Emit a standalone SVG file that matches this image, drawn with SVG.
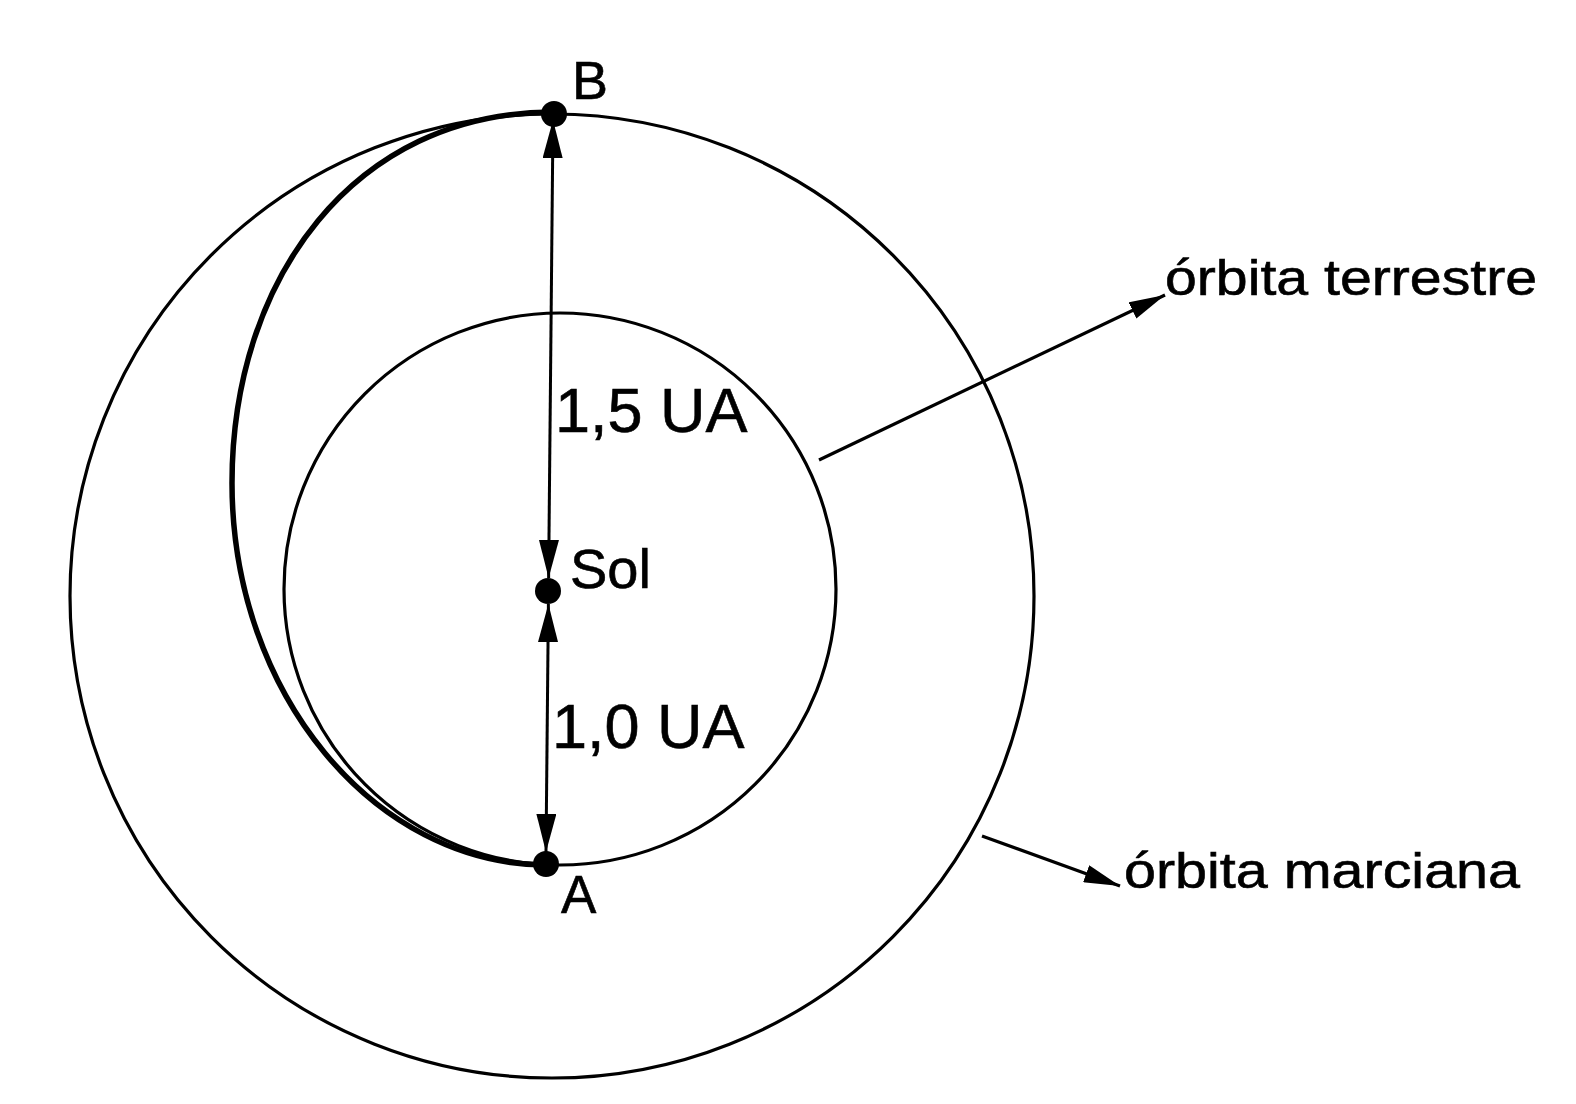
<svg xmlns="http://www.w3.org/2000/svg" width="1576" height="1104" viewBox="0 0 1576 1104">
<style>
.orbit{fill:none;stroke:#000;stroke-width:3.2}
.transfer{fill:none;stroke:#000;stroke-width:5.5}
.dim{stroke:#000;stroke-width:3;fill:none}
.lead{stroke:#000;stroke-width:3.2;fill:none}
.dot{fill:#000}
.lbl{font-family:"Liberation Sans",Arial,sans-serif;fill:#000;stroke:#000;stroke-width:0.6}
</style>
<defs>
<marker id="ah" viewBox="0 0 38 20" refX="38" refY="10" markerWidth="38" markerHeight="20" markerUnits="userSpaceOnUse" orient="auto-start-reverse">
<path d="M0,0 L38,10 L0,20 z" fill="#000"/>
</marker>
<marker id="ahs" viewBox="0 0 36 18" refX="36" refY="9" markerWidth="36" markerHeight="18" markerUnits="userSpaceOnUse" orient="auto">
<path d="M0,0 L36,9 L0,18 z" fill="#000"/>
</marker>
</defs>
<rect width="1576" height="1104" fill="#fff"/>
<g id="orbita-marciana-circle"><circle class="orbit" cx="552" cy="596" r="482"/></g>
<g id="orbita-terrestre-circle"><circle class="orbit" cx="560" cy="589" r="276"/></g>
<g id="transfer-orbit"><path class="transfer" d="M553,112 C354,112 232,279 232,483 C232,693 374,865 547,865"/></g>
<g id="connectors">
<line class="dim" x1="553" y1="120" x2="548.6" y2="578" marker-start="url(#ah)" marker-end="url(#ah)"/>
<line class="dim" x1="548.4" y1="604" x2="546" y2="852" marker-start="url(#ah)" marker-end="url(#ah)"/>
<line class="lead" x1="819" y1="460" x2="1165" y2="295" marker-end="url(#ahs)"/>
<line class="lead" x1="982" y1="836" x2="1120" y2="886" marker-end="url(#ahs)"/>
</g>
<g id="B"><circle class="dot" cx="554" cy="114" r="13"/><text class="lbl" x="572" y="99" font-size="54">B</text></g>
<g id="Sol"><circle class="dot" cx="548" cy="591" r="13"/><text class="lbl" x="570" y="588" font-size="56">Sol</text></g>
<g id="A"><circle class="dot" cx="546" cy="864" r="13"/><text class="lbl" x="561" y="913" font-size="53">A</text></g>
<g id="label-15"><text class="lbl" x="555" y="432" font-size="63">1,5 UA</text></g>
<g id="label-10"><text class="lbl" x="552" y="748" font-size="63">1,0 UA</text></g>
<g id="label-terrestre"><text class="lbl" x="1165" y="295" font-size="50" textLength="372" lengthAdjust="spacingAndGlyphs">órbita terrestre</text></g>
<g id="label-marciana"><text class="lbl" x="1124" y="888" font-size="50" textLength="396" lengthAdjust="spacingAndGlyphs">órbita marciana</text></g>
</svg>
